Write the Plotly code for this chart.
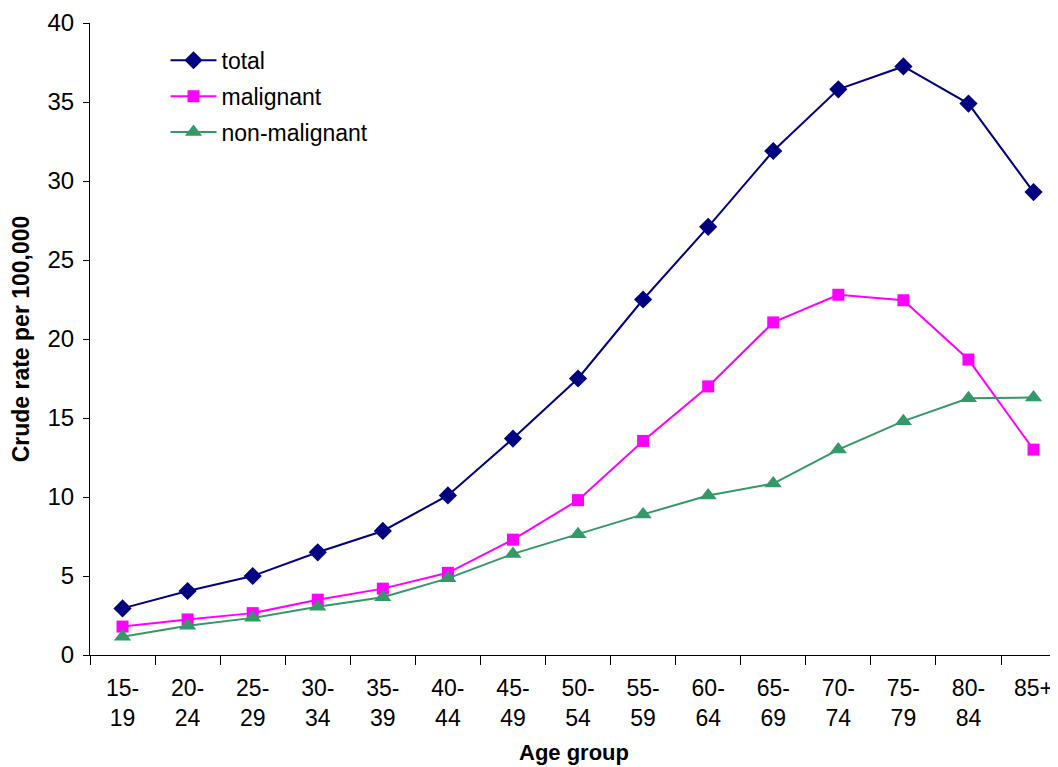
import plotly.graph_objects as go

age_groups = ["15-<br>19", "20-<br>24", "25-<br>29", "30-<br>34", "35-<br>39", "40-<br>44", "45-<br>49",
              "50-<br>54", "55-<br>59", "60-<br>64", "65-<br>69", "70-<br>74", "75-<br>79", "80-<br>84", "85+"]
total = [2.95, 4.05, 5.0, 6.5, 7.85, 10.1, 13.7, 17.5, 22.5, 27.1, 31.9, 35.8, 37.25, 34.9, 29.3]
malignant = [1.8, 2.25, 2.65, 3.5, 4.2, 5.2, 7.3, 9.8, 13.55, 17.0, 21.05, 22.8, 22.45, 18.7, 13.0]
non_malignant = [1.15, 1.85, 2.35, 3.05, 3.65, 4.85, 6.4, 7.65, 8.9, 10.1, 10.85, 13.0, 14.8, 16.25, 16.3]

font = "Liberation Sans, Arial, sans-serif"

fig = go.Figure()
fig.add_trace(go.Scatter(x=age_groups, y=total, name="total", mode="lines+markers", legendgroup="a",
                         line=dict(color="#000080", width=2),
                         marker=dict(symbol="diamond", size=14, color="#000080")))
fig.add_trace(go.Scatter(x=age_groups, y=malignant, name="malignant", mode="lines+markers", legendgroup="b",
                         line=dict(color="#FF00FF", width=2),
                         marker=dict(symbol="square", size=12, color="#FF00FF")))
fig.add_trace(go.Scatter(x=age_groups, y=non_malignant, name="non-malignant", mode="lines+markers", legendgroup="c",
                         line=dict(color="#339966", width=2),
                         marker=dict(symbol="triangle-up", size=15, color="#339966")))

fig.update_layout(
    width=1050, height=759,
    margin=dict(l=82, r=0, t=15, b=112),
    paper_bgcolor="white", plot_bgcolor="white",
    font=dict(family=font, size=22, color="black"),
    legend=dict(x=0.078, y=0.975, xanchor="left", yanchor="top",
                font=dict(family=font, size=23, color="black"),
                bgcolor="rgba(0,0,0,0)", tracegroupgap=3, itemwidth=46),
    xaxis=dict(
        type="category", categoryorder="array", categoryarray=age_groups,
        range=[-0.5, 14.376], showgrid=False, zeroline=False,
        showline=True, linecolor="black", linewidth=1,
        ticks="outside", ticklen=9, tickcolor="black", tickson="boundaries",
        tickfont=dict(family=font, size=23, color="black"),
        ticklabelstandoff=12,
        automargin=False,
        title=dict(text="<b>Age group</b>", font=dict(family=font, size=22, color="black"), standoff=15),
    ),
    yaxis=dict(
        range=[0, 40], dtick=5, showgrid=False, zeroline=False,
        showline=True, linecolor="black", linewidth=1,
        ticks="outside", ticklen=6, tickcolor="black",
        tickfont=dict(family=font, size=24, color="black"),
        ticklabelstandoff=4,
        automargin=False,
        title=dict(text="<b>Crude rate per 100,000</b>", font=dict(family=font, size=23, color="black"), standoff=20),
    ),
)

fig.write_html("out.html")
